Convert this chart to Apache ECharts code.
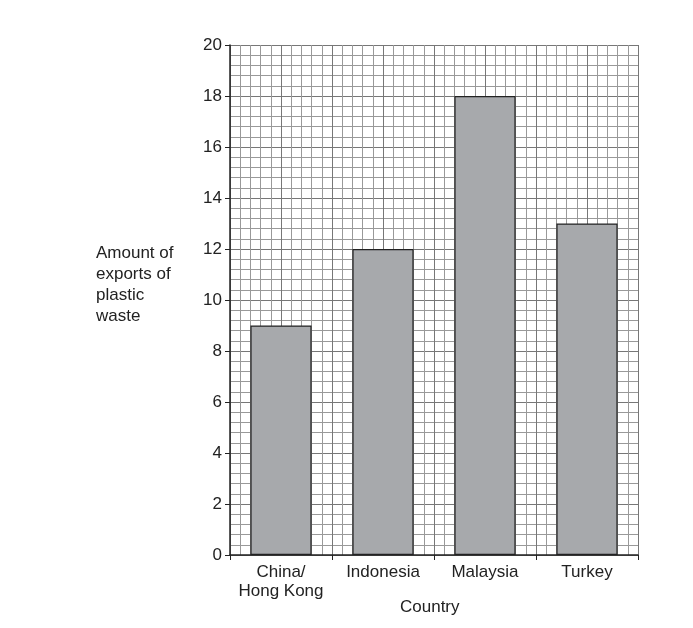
<!DOCTYPE html><html><head><meta charset="utf-8"><script src="https://cdn.jsdelivr.net/npm/echarts@6/dist/echarts.min.js"></script></head><body style="margin:0;background:#fff"><div id="c" style="width:693px;height:628px"></div><script>
const categories = ["China/\nHong Kong", "Indonesia", "Malaysia", "Turkey"];
const values = [9, 12, 18, 13];
const chart = echarts.init(document.getElementById('c'));
const txt = {color:'#222', fontFamily:'Liberation Sans, Arial', fontSize:17};
chart.setOption({
  animation:false,
  grid:{left:230,right:55,top:45,bottom:73},
  graphic:[
    {type:'text',left:96,top:243,style:{text:'Amount of\nexports of\nplastic\nwaste',lineHeight:21,fill:'#222',font:'17px Liberation Sans, Arial'}},
    {type:'text',left:400,top:599,style:{text:'Country',fill:'#222',font:'17px Liberation Sans, Arial'}}
  ],
  xAxis:[
    {type:'category',data:categories,position:'bottom',
     axisLine:{lineStyle:{color:'#222',width:1.5}},
     axisTick:{show:true,interval:0,alignWithLabel:false,length:5,lineStyle:{color:'#222'}},
     axisLabel:Object.assign({interval:0,margin:8,lineHeight:19},txt),splitLine:{show:false}},
    {type:'value',min:0,max:40,interval:5,position:'top',show:true,
     axisLine:{show:false},axisTick:{show:false},axisLabel:{show:false},
     splitLine:{show:true,lineStyle:{color:'#777',width:1}},
     minorTick:{show:false,splitNumber:5},
     minorSplitLine:{show:true,lineStyle:{color:'#999',width:1}}}
  ],
  yAxis:{type:'value',min:0,max:20,interval:2,
    axisLine:{show:true,lineStyle:{color:'#222',width:1.5}},
    axisTick:{show:true,length:5,lineStyle:{color:'#222'}},
    axisLabel:Object.assign({margin:8},txt),
    splitLine:{show:true,lineStyle:{color:'#777',width:1}},
    minorTick:{show:false,splitNumber:5},
    minorSplitLine:{show:true,lineStyle:{color:'#999',width:1}}},
  series:[{type:'bar',data:values,xAxisIndex:0,barWidth:'60%',
    itemStyle:{color:'#a7a9ac',borderColor:'#222',borderWidth:1.2}}]
});
</script></body></html>
